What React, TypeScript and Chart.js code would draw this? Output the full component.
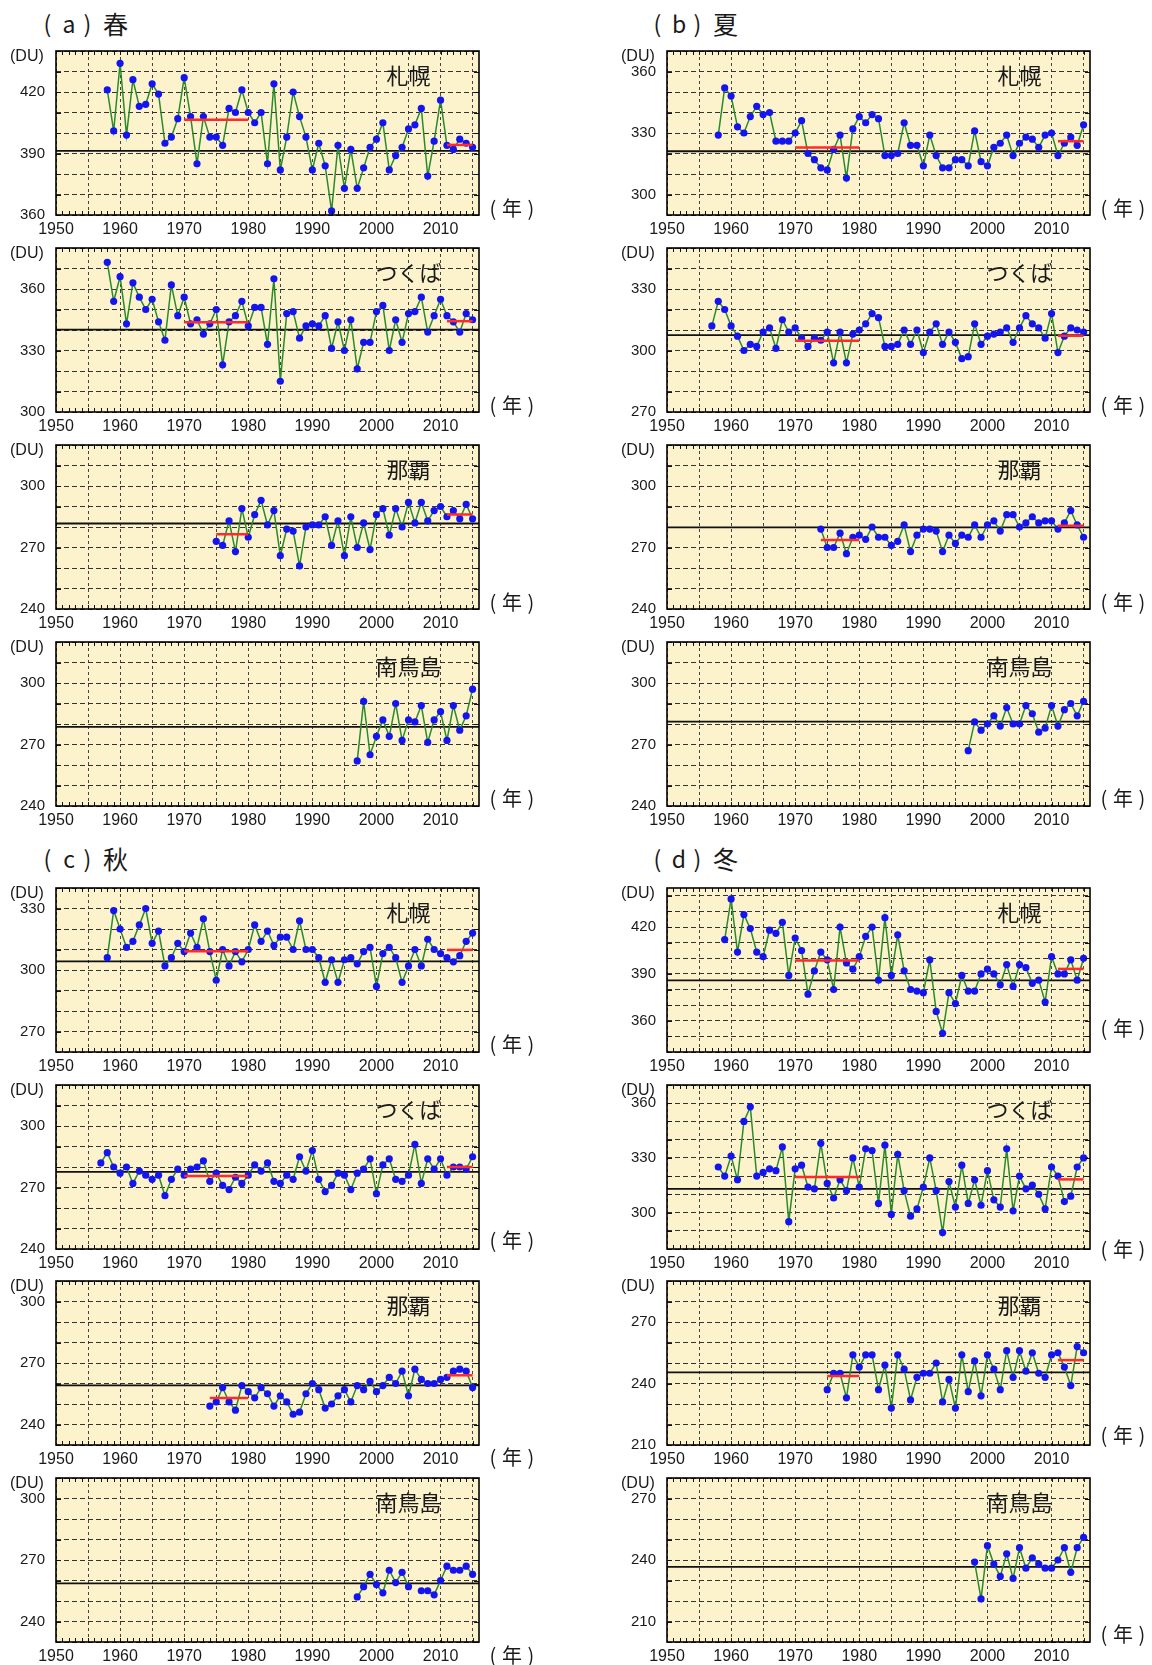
import React, { useEffect, useRef } from "react";
import { Chart, registerables } from "chart.js";
Chart.register(...registerables);

// ---------- axis ranges ----------
const X_MIN = 1950;
const X_MAX = 2016;
const X_TICK_STEP = 5;
const X_LABEL_EVERY = 10;
const Y_TICK_STEP = 10;
const Y_LABEL_EVERY = 30;

// ---------- labels ----------
const seasonLetters = ["a", "b", "c", "d"];
const seasonNames = ["春", "夏", "秋", "冬"];
const stationNames = ["札幌", "つくば", "那覇", "南鳥島"];

// ---------- data : spring ----------
const sapporoSpringStart = 1958;
const sapporoSpring = [
  421, 401, 434, 399, 426, 413, 414, 424, 419, 395,
  398, 407, 427, 408, 385, 408, 398, 398, 394, 412,
  410, 421, 410, 405, 410, 385, 424, 382, 398, 420,
  408, 398, 382, 395, 384, 362, 394, 373, 392, 373,
  383, 393, 397, 405, 382, 389, 393, 402, 404, 412,
  379, 396, 416, 394, 392, 397, 395, 393,
];
const tsukubaSpringStart = 1958;
const tsukubaSpring = [
  373, 354, 366, 343, 363, 356, 350, 355, 344, 335,
  362, 347, 356, 343, 345, 338, 343, 350, 323, 344,
  347, 354, 342, 351, 351, 333, 365, 315, 348, 349,
  336, 342, 343, 342, 347, 331, 344, 330, 345, 321,
  334, 334, 349, 352, 330, 345, 334, 348, 349, 356,
  339, 347, 355, 347, 344, 339, 348, 345,
];
const nahaSpringStart = 1975;
const nahaSpring = [
  273, 271, 283, 268, 289, 275, 286, 293, 281, 288,
  266, 279, 278, 261, 280, 281, 281, 285, 271, 283,
  266, 285, 270, 282, 269, 286, 289, 276, 289, 280,
  292, 282, 292, 283, 288, 290, 285, 288, 284, 291,
  284,
];
const minamiSpringStart = 1997;
const minamiSpring = [
  262, 291, 265, 274, 282, 274, 290, 272, 282, 281,
  289, 271, 282, 286, 272, 289, 277, 284, 297,
];

// ---------- data : summer ----------
const sapporoSummerStart = 1958;
const sapporoSummer = [
  329, 352, 348, 333, 330, 338, 343, 339, 340, 326,
  326, 326, 330, 336, 320, 317, 313, 312, 322, 329,
  308, 332, 338, 335, 339, 337, 319, 319, 320, 335,
  324, 324, 314, 329, 319, 313, 313, 317, 317, 314,
  331, 316, 314, 323, 325, 329, 319, 325, 328, 327,
  323, 329, 330, 319, 325, 328, 324, 334,
];
const tsukubaSummerStart = 1957;
const tsukubaSummer = [
  312, 324, 320, 312, 307, 300, 303, 302, 309, 311,
  301, 315, 309, 311, 306, 302, 306, 305, 309, 294,
  309, 294, 308, 310, 313, 318, 316, 302, 302, 303,
  310, 303, 310, 299, 309, 313, 303, 309, 304, 296,
  297, 313, 303, 307, 308, 309, 311, 304, 311, 317,
  313, 311, 306, 318, 299, 307, 311, 310, 309,
];
const nahaSummerStart = 1974;
const nahaSummer = [
  279, 270, 270, 277, 267, 275, 276, 274, 280, 275,
  275, 271, 273, 281, 268, 276, 279, 279, 278, 268,
  276, 272, 276, 275, 281, 275, 281, 283, 278, 286,
  286, 280, 282, 285, 282, 283, 283, 279, 282, 288,
  281, 275,
];
const minamiSummerStart = 1997;
const minamiSummer = [
  267, 281, 277, 280, 284, 279, 288, 280, 280, 289,
  285, 276, 278, 289, 279, 287, 290, 284, 291,
];

// ---------- data : autumn ----------
const sapporoAutumnStart = 1958;
const sapporoAutumn = [
  306, 329, 320, 311, 314, 322, 330, 313, 319, 302,
  306, 313, 309, 318, 311, 325, 309, 295, 310, 302,
  309, 304, 310, 322, 314, 319, 312, 316, 316, 310,
  324, 310, 310, 306, 294, 305, 294, 305, 306, 303,
  309, 311, 292, 308, 311, 306, 294, 302, 310, 302,
  315, 310, 308, 306, 304, 307, 314, 318,
];
const tsukubaAutumnStart = 1957;
const tsukubaAutumn = [
  282, 287, 280, 277, 280, 272, 278, 276, 274, 276,
  266, 274, 279, 276, 279, 280, 283, 273, 277, 271,
  269, 275, 272, 276, 281, 278, 282, 273, 272, 276,
  274, 285, 278, 288, 274, 268, 271, 277, 276, 269,
  277, 279, 284, 267, 281, 284, 274, 273, 276, 291,
  272, 284, 279, 284, 276, 280, 280, 279, 285,
];
const nahaAutumnStart = 1974;
const nahaAutumn = [
  249, 251, 258, 251, 247, 259, 256, 253, 258, 255,
  249, 254, 251, 245, 246, 255, 260, 257, 248, 250,
  254, 257, 251, 259, 257, 261, 256, 259, 263, 260,
  266, 254, 267, 262, 260, 260, 262, 263, 266, 267,
  266, 258,
];
const minamiAutumnStart = 1997;
const minamiAutumn = [
  252, 257, 263, 258, 254, 265, 259, 264, 257, null,
  255, 255, 253, 260, 267, 265, 265, 267, 263,
];

// ---------- data : winter ----------
const sapporoWinterStart = 1959;
const sapporoWinter = [
  412, 438, 404, 428, 419, 404, 401, 418, 416, 423,
  389, 413, 405, 377, 392, 404, 399, 380, 420, 397,
  393, 401, 414, 420, 386, 426, 389, 415, 392, 380,
  379, 378, 399, 366, 352, 378, 371, 389, 379, 379,
  390, 393, 390, 383, 396, 382, 396, 394, 384, 386,
  372, 401, 390, 390, 399, 386, 400,
];
const tsukubaWinterStart = 1958;
const tsukubaWinter = [
  325, 320, 331, 318, 350, 358, 320, 322, 324, 323,
  336, 295, 324, 326, 314, 313, 338, 316, 308, 318,
  312, 330, 314, 335, 334, 305, 337, 299, 332, 312,
  298, 302, 314, 330, 312, 289, 317, 303, 326, 305,
  318, 304, 323, 307, 303, 335, 301, 320, 313, 315,
  310, 302, 325, 320, 306, 309, 325, 330,
];
const nahaWinterStart = 1975;
const nahaWinter = [
  237, 245, 245, 233, 254, 248, 254, 254, 237, 249,
  228, 254, 247, 232, 243, 245, 245, 250, 231, 242,
  228, 254, 236, 251, 234, 254, 247, 237, 256, 243,
  256, 246, 255, 245, 243, 254, 255, 248, 239, 258,
  255,
];
const minamiWinterStart = 1998;
const minamiWinter = [
  239, 221, 247, 238, 232, 243, 231, 246, 236, 241,
  238, 236, 236, 240, 246, 234, 246, 251,
];

// ---------- reference lines (black) per season: 札幌, つくば, 那覇, 南鳥島 ----------
const refSpring = [391.3, 340.2, 281.7, 278.6];
const refSummer = [321.1, 307.5, 279.8, 281.2];
const refAutumn = [304.2, 277.6, 259.1, 258.6];
const refWinter = [385.9, 313.0, 245.4, 236.6];

// ---------- red lines: early period (to 1980) and 2011-2015 ----------
const EARLY_END = 1980;
const RECENT_START = 2011;
const RECENT_END = 2015;
const earlySpring = [406.5, 343.8, 276.5, null];
const earlySummer = [322.9, 304.7, 273.7, null];
const earlyAutumn = [309.1, 275.6, 252.9, null];
const earlyWinter = [398.6, 319.5, 243.6, null];
const recentSpring = [394.2, 344.3, 286.1, null];
const recentSummer = [326.0, 307.2, 280.6, null];
const recentAutumn = [309.8, 280.0, 264.0, null];
const recentWinter = [393.2, 318.2, 251.4, null];

// ---------- y ranges ----------
const yRangeSpring = [[360, 440], [300, 380], [240, 320], [240, 320]];
const yRangeSummer = [[290, 370], [270, 350], [240, 320], [240, 320]];
const yRangeAutumn = [[260, 340], [240, 320], [230, 310], [230, 310]];
const yRangeWinter = [[340, 445], [280, 370], [210, 290], [200, 280]];

// ---------- layout (pixels) ----------
const COL_X = [0, 611];
const ROW_TOPS = [51, 248, 445, 642, 888, 1085, 1281, 1478];
const PLOT_H = 164;
const CANVAS_W = 540;
const PAD_TOP = 12;
const X_AXIS_H = 36;
const Y_AXIS_W = 56;
const PAD_RIGHT = 61;
const TITLE_Y = [23, 858];
const nenDySpring = [-7, -7, -7, -8];
const nenDySummer = [-7, -7, -7, -8];
const nenDyAutumn = [-8, -9, 12, 13];
const nenDyWinter = [-24, 0, -10, -8];

const BG = "#fcf2cc";
const GREEN = "#2a8a2a";
const BLUE = "#1414ee";
const RED = "#ff2b2b";
const TEXT = "#1a1a1a";
const TICK_FONT = "'Liberation Sans', Arial, sans-serif";
const JP_FONT = "'Noto Sans CJK JP', 'Noto Sans', sans-serif";

type PanelDef = {
  key: string;
  station: string;
  start: number;
  values: (number | null)[];
  ref: number;
  early: number | null;
  recent: number | null;
  yMin: number;
  yMax: number;
  nenDy: number;
  left: number;
  plotTop: number;
};

const seasonData = [
  {
    starts: [sapporoSpringStart, tsukubaSpringStart, nahaSpringStart, minamiSpringStart],
    values: [sapporoSpring, tsukubaSpring, nahaSpring, minamiSpring],
    ref: refSpring, early: earlySpring, recent: recentSpring, yr: yRangeSpring, nen: nenDySpring,
  },
  {
    starts: [sapporoSummerStart, tsukubaSummerStart, nahaSummerStart, minamiSummerStart],
    values: [sapporoSummer, tsukubaSummer, nahaSummer, minamiSummer],
    ref: refSummer, early: earlySummer, recent: recentSummer, yr: yRangeSummer, nen: nenDySummer,
  },
  {
    starts: [sapporoAutumnStart, tsukubaAutumnStart, nahaAutumnStart, minamiAutumnStart],
    values: [sapporoAutumn, tsukubaAutumn, nahaAutumn, minamiAutumn],
    ref: refAutumn, early: earlyAutumn, recent: recentAutumn, yr: yRangeAutumn, nen: nenDyAutumn,
  },
  {
    starts: [sapporoWinterStart, tsukubaWinterStart, nahaWinterStart, minamiWinterStart],
    values: [sapporoWinter, tsukubaWinter, nahaWinter, minamiWinter],
    ref: refWinter, early: earlyWinter, recent: recentWinter, yr: yRangeWinter, nen: nenDyWinter,
  },
];

const PANELS: PanelDef[] = [];
seasonData.forEach((s, si) => {
  const col = si % 2;
  const rowBase = si < 2 ? 0 : 4;
  for (let st = 0; st < 4; st++) {
    PANELS.push({
      key: `${si}-${st}`,
      station: stationNames[st],
      start: s.starts[st],
      values: s.values[st],
      ref: s.ref[st],
      early: s.early[st],
      recent: s.recent[st],
      yMin: s.yr[st][0],
      yMax: s.yr[st][1],
      nenDy: s.nen[st],
      left: COL_X[col],
      plotTop: ROW_TOPS[rowBase + st],
    });
  }
});

function makeDecoPlugin(def: PanelDef) {
  return {
    id: "panelDeco" + def.key,
    beforeDraw(chart: any) {
      const { ctx, chartArea: a } = chart;
      ctx.save();
      ctx.fillStyle = BG;
      ctx.fillRect(a.left, a.top, a.right - a.left, a.bottom - a.top);
      ctx.restore();
    },
    afterDraw(chart: any) {
      const { ctx, chartArea: a, scales } = chart;
      const xs = scales.x;
      const ys = scales.y;
      ctx.save();
      // minor ticks every year on top and bottom
      ctx.strokeStyle = "#111";
      ctx.lineWidth = 1;
      ctx.setLineDash([]);
      ctx.beginPath();
      for (let yr = X_MIN + 1; yr < X_MAX; yr++) {
        const px = Math.round(xs.getPixelForValue(yr)) + 0.5;
        ctx.moveTo(px, a.top);
        ctx.lineTo(px, a.top + 4);
        ctx.moveTo(px, a.bottom);
        ctx.lineTo(px, a.bottom - 4);
      }
      for (let v = Math.ceil(ys.min / Y_TICK_STEP) * Y_TICK_STEP; v <= ys.max; v += Y_TICK_STEP) {
        const py = Math.round(ys.getPixelForValue(v)) + 0.5;
        ctx.moveTo(a.left, py);
        ctx.lineTo(a.left + 5, py);
        ctx.moveTo(a.right, py);
        ctx.lineTo(a.right - 5, py);
      }
      ctx.stroke();
      // frame
      ctx.lineWidth = 1.6;
      ctx.strokeStyle = "#000";
      ctx.strokeRect(a.left, a.top, a.right - a.left, a.bottom - a.top);
      // (DU)
      ctx.fillStyle = TEXT;
      ctx.font = "16px " + TICK_FONT;
      ctx.textAlign = "left";
      ctx.textBaseline = "middle";
      ctx.fillText("(DU)", a.left - 46, a.top + 6);
      // station name
      ctx.font = "22px " + JP_FONT;
      ctx.textAlign = "center";
      ctx.fillText(def.station, xs.getPixelForValue(2005), a.top + 25);
      // (年)
      const ny = a.bottom + def.nenDy;
      ctx.font = "20px " + JP_FONT;
      ctx.fillText("(", a.right + 14, ny);
      ctx.fillText("年", a.right + 33, ny);
      ctx.fillText(")", a.right + 52, ny);
      ctx.restore();
    },
  };
}

function Panel({ def }: { def: PanelDef }) {
  const ref = useRef<HTMLCanvasElement | null>(null);
  const canvasH = PAD_TOP + PLOT_H + X_AXIS_H;
  useEffect(() => {
    if (!ref.current) return;
    const series = def.values.map((v, i) => ({ x: def.start + i, y: v }));
    const datasets: any[] = [
      {
        data: series,
        borderColor: GREEN,
        borderWidth: 1.5,
        pointRadius: 3.6,
        pointBackgroundColor: BLUE,
        pointBorderWidth: 0,
        pointHoverRadius: 0,
        tension: 0,
        spanGaps: false,
        order: 1,
      },
      {
        data: [
          { x: X_MIN, y: def.ref },
          { x: X_MAX, y: def.ref },
        ],
        borderColor: "#111",
        borderWidth: 1.8,
        pointRadius: 0,
        order: 2,
      },
    ];
    if (def.early !== null) {
      datasets.push({
        data: [
          { x: Math.max(1970, def.start), y: def.early },
          { x: EARLY_END, y: def.early },
        ],
        borderColor: RED,
        borderWidth: 2.5,
        pointRadius: 0,
        order: 0,
      });
    }
    if (def.recent !== null) {
      datasets.push({
        data: [
          { x: RECENT_START, y: def.recent },
          { x: RECENT_END, y: def.recent },
        ],
        borderColor: RED,
        borderWidth: 2.5,
        pointRadius: 0,
        order: 0,
      });
    }
    const chart = new Chart(ref.current, {
      type: "line",
      data: { datasets },
      options: {
        animation: false,
        responsive: false,
        events: [],
        layout: { padding: { top: PAD_TOP, right: PAD_RIGHT, bottom: 0, left: 0 } },
        plugins: {
          legend: { display: false },
          tooltip: { enabled: false },
          title: { display: false },
        },
        scales: {
          x: {
            type: "linear",
            min: X_MIN,
            max: X_MAX,
            afterFit: (s: any) => {
              s.height = X_AXIS_H;
              s.paddingLeft = 0;
              s.paddingRight = 0;
              s.paddingTop = 0;
              s.paddingBottom = 0;
            },
            ticks: {
              stepSize: X_TICK_STEP,
              includeBounds: false,
              autoSkip: false,
              maxRotation: 0,
              minRotation: 0,
              padding: 5,
              color: TEXT,
              font: { family: TICK_FONT, size: 16 },
              callback: (v: any) => (Number(v) % X_LABEL_EVERY === 0 ? String(v) : ""),
            },
            grid: { color: "#444", lineWidth: 1, drawTicks: false },
            border: { display: false, dash: [3, 3] },
          },
          y: {
            type: "linear",
            min: def.yMin,
            max: def.yMax,
            afterFit: (s: any) => {
              s.width = Y_AXIS_W;
              s.paddingLeft = 0;
              s.paddingRight = 0;
              s.paddingTop = 0;
              s.paddingBottom = 0;
            },
            ticks: {
              stepSize: Y_TICK_STEP,
              includeBounds: false,
              autoSkip: false,
              padding: 11,
              color: TEXT,
              font: { family: TICK_FONT, size: 15 },
              callback: (v: any) => (Number(v) % Y_LABEL_EVERY === 0 ? String(v) : ""),
            },
            grid: { color: "#333", lineWidth: 1, drawTicks: false },
            border: { display: false, dash: [5, 3] },
          },
        },
      } as any,
      plugins: [makeDecoPlugin(def)],
    });
    return () => chart.destroy();
  }, [def]);
  return (
    <canvas
      ref={ref}
      width={CANVAS_W}
      height={canvasH}
      style={{
        position: "absolute",
        left: def.left,
        top: def.plotTop - PAD_TOP,
        width: CANVAS_W,
        height: canvasH,
      }}
    />
  );
}

function Title({ si }: { si: number }) {
  const x0 = si % 2 === 0 ? 0 : 610;
  const y = TITLE_Y[si < 2 ? 0 : 1];
  const parts: [string, number, number][] = [
    ["(", 47.5, 23],
    [seasonLetters[si], 69, 23],
    [")", 87.5, 23],
    [seasonNames[si], 115.5, 25],
  ];
  return (
    <>
      {parts.map(([t, cx, fs], i) => (
        <span
          key={i}
          style={{
            position: "absolute",
            left: x0 + cx,
            top: y,
            transform: "translate(-50%, -50%)",
            fontFamily: JP_FONT,
            fontSize: fs,
            lineHeight: 1,
            color: TEXT,
            whiteSpace: "nowrap",
          }}
        >
          {t}
        </span>
      ))}
    </>
  );
}

export default function App() {
  return (
    <div
      style={{
        position: "absolute",
        left: 0,
        top: 0,
        width: 1152,
        height: 1665,
        background: "#fff",
        overflow: "hidden",
      }}
    >
      {[0, 1, 2, 3].map((si) => (
        <Title key={si} si={si} />
      ))}
      {PANELS.map((p) => (
        <Panel key={p.key} def={p} />
      ))}
    </div>
  );
}
